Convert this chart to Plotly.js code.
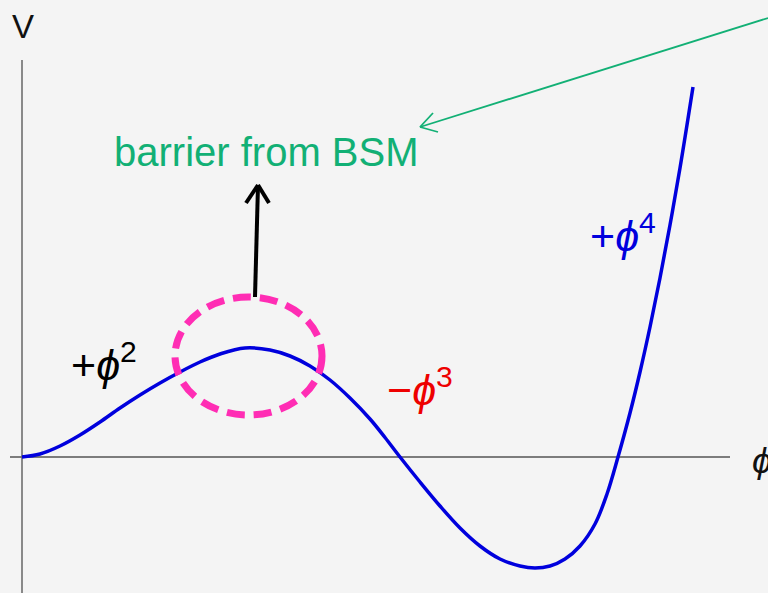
<!DOCTYPE html>
<html><head><meta charset="utf-8">
<script src="https://cdn.plot.ly/plotly-3.0.1.min.js"></script>
<style>html,body{margin:0;padding:0;background:#f4f4f4;overflow:hidden;}</style>
</head><body><div id="chart" style="width:768px;height:593px;"></div>
<script>
// Potential V(phi) (arbitrary units)
const phi = [0, 0.18, 0.38, 0.58, 0.78, 0.98, 1.18, 1.38, 1.58, 1.78, 1.98, 2.23, 2.48, 2.68, 2.88, 3.08, 3.28, 3.48, 3.63, 3.78,
             3.98, 4.18, 4.38, 4.58, 4.78, 4.98, 5.13, 5.28, 5.43, 5.58, 5.73, 5.85, 5.96, 6.08, 6.18, 6.28, 6.38, 6.48, 6.58, 6.71];
const V   = [0, 0.03, 0.11, 0.22, 0.35, 0.49, 0.62, 0.74, 0.85, 0.95, 1.03, 1.09, 1.07, 1.01, 0.91, 0.77, 0.59, 0.38, 0.195, 0,
             -0.25, -0.49, -0.71, -0.89, -1.02, -1.09, -1.11, -1.09, -1.02, -0.89, -0.67, -0.37, 0, 0.44, 0.85, 1.30, 1.79, 2.32, 2.89, 3.70];

// axis extents
const xRange = [-0.22, 7.46];
const yRange = [-1.36, 4.57];
const hAxis = {x: [-0.12, 7.08], y: [0, 0]};
const vAxis = {x: [0, 0], y: [-1.36, 3.97]};

// annotations
const barrierEllipse = {x: [1.53, 3.00], y: [0.42, 1.60]};
const blackArrow = {tail: [2.33, 1.60], tip: [2.36, 2.72], wingL: [2.24, 2.54], wingR: [2.47, 2.54]};
const greenArrow = {tail: [7.46, 4.39], tip: [3.98, 3.30], wingA: [4.11, 3.44], wingB: [4.16, 3.25]};

const labels = [
  {text: 'V', x: 0.01, y: 4.31, color: '#111111', size: 33},
  {text: '<i>ϕ</i>', x: 7.40, y: -0.03, color: '#111111', size: 36},
  {text: '+<i>ϕ</i><sup>2</sup>', x: 0.82, y: 0.95, color: '#000000', size: 43},
  {text: '−<i>ϕ</i><sup>3</sup>', x: 3.98, y: 0.70, color: '#ee0000', size: 43},
  {text: '+<i>ϕ</i><sup>4</sup>', x: 6.01, y: 2.24, color: '#0000dd', size: 43},
  {text: 'barrier from BSM', x: 2.44, y: 3.05, color: '#12b075', size: 40}
];

function seg(a, b, color, width) {
  return {type: 'line', xref: 'x', yref: 'y', x0: a[0], y0: a[1], x1: b[0], y1: b[1],
          line: {color: color, width: width}};
}

const shapes = [
  {type: 'line', xref: 'x', yref: 'y', x0: hAxis.x[0], x1: hAxis.x[1], y0: hAxis.y[0], y1: hAxis.y[1], line: {color: '#555555', width: 1.5}, layer: 'below'},
  {type: 'line', xref: 'x', yref: 'y', x0: vAxis.x[0], x1: vAxis.x[1], y0: vAxis.y[0], y1: vAxis.y[1], line: {color: '#666666', width: 1.5}, layer: 'below'},
  {type: 'circle', xref: 'x', yref: 'y', x0: barrierEllipse.x[0], x1: barrierEllipse.x[1], y0: barrierEllipse.y[0], y1: barrierEllipse.y[1],
   line: {color: '#ff2db4', width: 7, dash: '18px,9px'}},
  seg(blackArrow.tail, blackArrow.tip, '#000000', 4),
  seg(blackArrow.wingL, blackArrow.tip, '#000000', 4),
  seg(blackArrow.wingR, blackArrow.tip, '#000000', 4),
  seg(greenArrow.tail, greenArrow.tip, '#12b075', 1.8),
  seg(greenArrow.wingA, greenArrow.tip, '#12b075', 1.8),
  seg(greenArrow.wingB, greenArrow.tip, '#12b075', 1.8)
];

const annotations = labels.map(l => ({
  text: l.text, x: l.x, y: l.y, xref: 'x', yref: 'y', showarrow: false,
  xanchor: 'center', yanchor: 'middle',
  font: {family: 'Liberation Sans, DejaVu Sans, Arial, sans-serif', size: l.size, color: l.color}
}));

const trace = {x: phi, y: V, type: 'scatter', mode: 'lines',
  line: {color: '#0000dd', width: 3.5, shape: 'spline', smoothing: 1}, hoverinfo: 'skip'};

const layout = {
  width: 768, height: 593,
  margin: {l: 0, r: 0, t: 0, b: 0, pad: 0},
  paper_bgcolor: '#f4f4f4', plot_bgcolor: '#f4f4f4',
  showlegend: false,
  xaxis: {range: xRange, visible: false, fixedrange: true},
  yaxis: {range: yRange, visible: false, fixedrange: true},
  shapes: shapes,
  annotations: annotations
};

Plotly.newPlot('chart', [trace], layout, {staticPlot: true, displayModeBar: false});
</script>
</body></html>
